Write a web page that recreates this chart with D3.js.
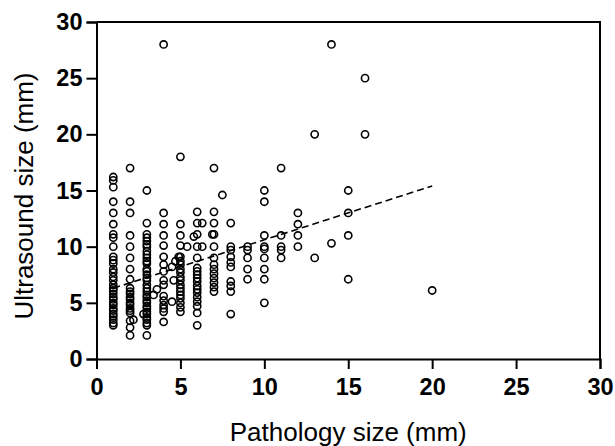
<!DOCTYPE html>
<html>
<head>
<meta charset="utf-8">
<script src="https://cdn.jsdelivr.net/npm/d3@7"></script>
<style>
  html, body { margin: 0; padding: 0; background: #fff; }
  svg { display: block; }
</style>
</head>
<body>
<svg id="chart" width="615" height="446"></svg>
<script>
// ---- data ----
const pathologySize = [
  // x = 1
  1,1,1,1,1,1,1,1,1,1,1,1,1,1,1,1,1,1,1,1,1,1,1,1,1,1,1,1,1,1,1,
  // x = 2
  2,2,2,2,2,2,2,2,2,2,2,2,2,2,2,2,2,2,2,2,2, 2.2, 2.8,
  // x = 3
  3,3,3,3,3,3,3,3,3,3,3,3,3,3,3,3,3,3,3,3,3,3,3,3,3,3,3,3,3,3,3,3,3, 3.4, 3.6,
  // x = 4
  4,4,4,4,4,4,4,4,4,4,4,4,4,4,4,4, 4.5,4.5,4.6,4.7,4.9,
  // x = 5
  5,5,5,5,5,5,5,5,5,5,5,5,5,5,5,5,5,5,5, 5.4, 5.8,
  // x = 6
  6,6,6,6,6,6,6,6,6,6,6,6,6,6,6,6,6,6, 6.3,6.3,
  // x = 7
  7,7,7,7,7,7,7,7,7,7,7,7,7, 6.9, 7.5,
  // x = 8
  8,8,8,8,8,8,8,8,8,8,
  // x = 9
  9,9,9,9,9,
  // x = 10
  10,10,10,10,10,10,10,10,10,
  // x = 11
  11,11,11,11,11,
  // x = 12
  12,12,12,12,
  // x = 13..20
  13,13, 14,14, 15,15,15,15, 16,16, 20
];
const ultrasoundSize = [
  // x = 1
  16.2,15.9,15.3,14,13,12,11.1,10.8,10,9.1,8.8,8.5,8,7.7,7.3,7,6.6,6.3,6.1,5.8,5.5,5.3,5,4.8,4.5,4.3,4,3.8,3.5,3.2,3,
  // x = 2
  17,14,13,11,10,9,8,7.1,6.3,6,5.8,5.5,5.3,5,4.8,4.5,4.3,4.1,3.4,2.8,2.1, 3.5, 4.0,
  // x = 3
  15,12.1,11.1,10.8,10.5,10.2,10,9.6,9.3,9,8.7,8.5,8,7.8,7.5,7.2,7,6.6,6.3,6,5.7,5.5,5.2,5,4.7,4.5,4.2,4,3.7,3.5,3.2,3,2.1, 5.7, 6.2,
  // x = 4
  28,13,12,11,10.1,9.1,8.4,7.8,7,6.6,5.6,5.2,4.8,4.5,4.2,3.3, 5.1,8.2,7,8.7,9.1,
  // x = 5
  18,12,11,10.1,9.1,8.7,8.4,8,7.7,7.3,7,6.6,6.3,6,5.7,5.4,5,4.6,4.2, 10, 10.9,
  // x = 6
  13.1,12.1,11.1,10,9,8.1,7.8,7.5,7.2,6.9,6.5,6.2,5.9,5.5,5.1,4.7,4.1,3, 12.1,10,
  // x = 7
  17,13.1,12.1,11.1,10,9,8.4,8,7.6,7.2,6.8,6.4,6, 11.1, 14.6,
  // x = 8
  12.1,10,9.7,9.1,8.6,8.2,6.9,6.5,6,4,
  // x = 9
  10,9.7,9,8,7.1,
  // x = 10
  15,14,11,10,9.8,9,8,7.1,5,
  // x = 11
  17,11,10,9.7,9,
  // x = 12
  13,12,11,10,
  // x = 13..20
  20,9, 28,10.3, 15,13,11,7.1, 25,20, 6.1
];
const fitX = [1, 20];
const fitY = [6.3, 15.4];
const xTicks = [0, 5, 10, 15, 20, 25, 30];
const yTicks = [0, 5, 10, 15, 20, 25, 30];
const xTitle = "Pathology size (mm)";
const yTitle = "Ultrasound size (mm)";

// ---- drawing ----
const svg = d3.select("#chart");
const plotLeft = 96.5, plotRight = 600, plotTop = 22, plotBottom = 359;
const x = d3.scaleLinear().domain([0, 30]).range([plotLeft, plotRight]);
const y = d3.scaleLinear().domain([0, 30]).range([plotBottom, plotTop]);
const font = "'Liberation Sans', Arial, Helvetica, sans-serif";

// frame (top and right)
svg.append("path")
  .attr("d", `M${plotLeft},${plotTop}H${plotRight}V${plotBottom}`)
  .attr("fill", "none").attr("stroke", "#000").attr("stroke-width", 2);

// axes
const gx = svg.append("g").attr("transform", `translate(0,${plotBottom})`)
  .call(d3.axisBottom(x).tickValues(xTicks).tickSize(10).tickPadding(9).tickFormat(d3.format("d")));
const gy = svg.append("g").attr("transform", `translate(${plotLeft},0)`)
  .call(d3.axisLeft(y).tickValues(yTicks).tickSize(10).tickPadding(4).tickFormat(d3.format("d")));
[gx, gy].forEach(g => {
  g.select(".domain").attr("stroke-width", 2);
  g.selectAll(".tick line").attr("stroke-width", 2);
  g.selectAll(".tick text")
    .attr("font-family", font).attr("font-size", 23.5).attr("font-weight", "bold").attr("fill", "#000");
});

// regression line
svg.append("line")
  .attr("x1", x(fitX[0])).attr("y1", y(fitY[0]))
  .attr("x2", x(fitX[1])).attr("y2", y(fitY[1]))
  .attr("stroke", "#000").attr("stroke-width", 1.6).attr("stroke-dasharray", "7,4");

// points
svg.append("g").selectAll("circle")
  .data(d3.range(pathologySize.length))
  .join("circle")
  .attr("cx", i => x(pathologySize[i]))
  .attr("cy", i => y(ultrasoundSize[i]))
  .attr("r", 3.6)
  .attr("fill", "none")
  .attr("stroke", "#000")
  .attr("stroke-width", 1.6);

// titles
svg.append("text")
  .attr("x", (plotLeft + plotRight) / 2).attr("y", 441)
  .attr("text-anchor", "middle")
  .attr("font-family", font).attr("font-size", 26).attr("fill", "#000")
  .text(xTitle);
svg.append("text")
  .attr("transform", `translate(33,196) rotate(-90)`)
  .attr("text-anchor", "middle")
  .attr("font-family", font).attr("font-size", 26).attr("fill", "#000")
  .text(yTitle);
</script>
</body>
</html>
